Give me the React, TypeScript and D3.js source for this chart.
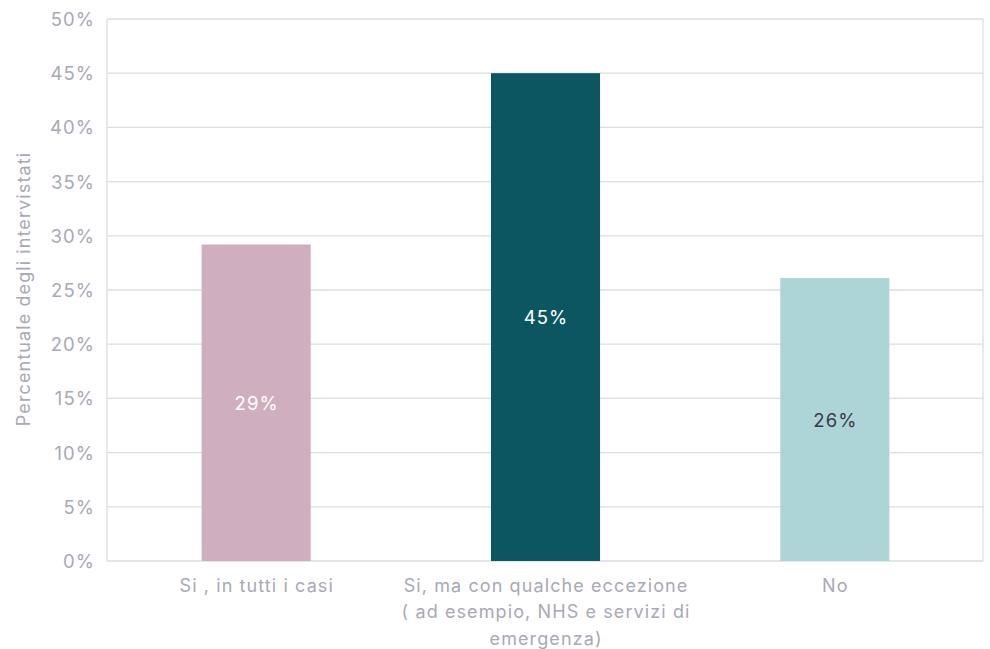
import React from "react";
import * as d3 from "d3";

const categories: string[][] = [
  ["Si , in tutti i casi"],
  ["Si, ma con qualche eccezione", "( ad esempio, NHS e servizi di", "emergenza)"],
  ["No"],
];
const values: number[] = [29.2, 45.0, 26.1];
const valueLabels: string[] = ["29%", "45%", "26%"];
const barColors: string[] = ["#cfafbf", "#0b5660", "#add5d7"];
const labelColors: string[] = ["#ffffff", "#ffffff", "#3b3a45"];
const yTicks: number[] = [0, 5, 10, 15, 20, 25, 30, 35, 40, 45, 50];
const yTitle = "Percentuale degli intervistati";

const W = 990;
const H = 649;
const plot = { left: 107, right: 983, top: 19, bottom: 561 };
const FONT = "Inter, 'Noto Sans', sans-serif";
const LS = 1.1;

export default function App() {
  const y = d3.scaleLinear().domain([0, 50]).range([plot.bottom, plot.top]);
  const x = d3
    .scaleBand<number>()
    .domain(d3.range(values.length))
    .range([111.5, 979.5])
    .padding(0);
  const barW = x.bandwidth() * 0.377;
  const gridColor = "#dddde0";
  const textColor = "#a9a9b5";

  return (
    <svg
      width={W}
      height={H}
      style={{ position: "absolute", left: 0, top: 0, background: "#fff" }}
      fontFamily={FONT}
      letterSpacing={LS}
    >
      {yTicks.map((t) => (
        <g key={t}>
          <line
            x1={plot.left}
            x2={plot.right}
            y1={y(t)}
            y2={y(t)}
            stroke={gridColor}
            strokeWidth={1.3}
          />
          <text
            x={94 + LS}
            y={y(t)}
            textAnchor="end"
            dominantBaseline="central"
            fontSize={18.5}
            fill={textColor}
          >
            {t}%
          </text>
        </g>
      ))}
      <line x1={plot.left} x2={plot.left} y1={plot.top} y2={plot.bottom} stroke={gridColor} strokeWidth={1.3} />
      <line x1={plot.right} x2={plot.right} y1={plot.top} y2={plot.bottom} stroke={gridColor} strokeWidth={1.3} />
      <text
        transform={`translate(23,${(plot.top + plot.bottom) / 2 - 1}) rotate(-90)`}
        textAnchor="middle"
        dominantBaseline="central"
        fontSize={18}
        fill={textColor}
      >
        {yTitle}
      </text>
      {values.map((v, i) => {
        const cx = (x(i) as number) + x.bandwidth() / 2;
        return (
          <g key={i}>
            <rect
              x={cx - barW / 2}
              y={y(v)}
              width={barW}
              height={y(0) - y(v)}
              fill={barColors[i]}
            />
            <text
              x={cx + LS / 2}
              y={(y(v) + y(0)) / 2}
              textAnchor="middle"
              dominantBaseline="central"
              fontSize={18.5}
              fill={labelColors[i]}
            >
              {valueLabels[i]}
            </text>
            {categories[i].map((line, j) => (
              <text
                key={j}
                x={cx + LS / 2}
                y={585 + j * 26.5}
                textAnchor="middle"
                dominantBaseline="central"
                fontSize={18}
                fill={textColor}
              >
                {line}
              </text>
            ))}
          </g>
        );
      })}
    </svg>
  );
}
